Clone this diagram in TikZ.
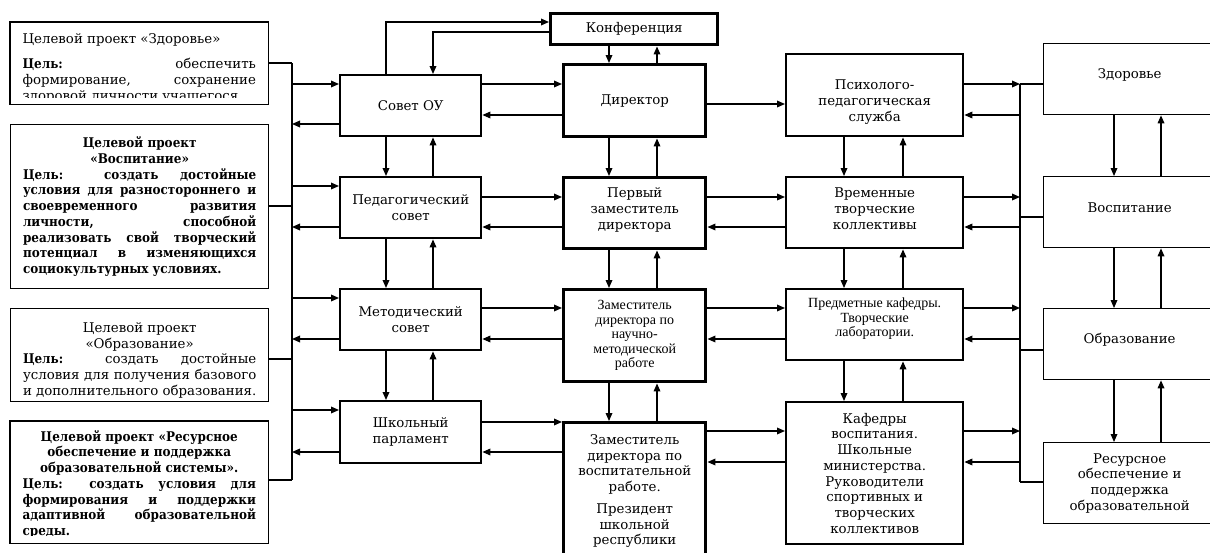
\documentclass[tikz,border=0pt]{standalone}
\usepackage{fontspec}
\setmainfont{DejaVu Serif}[BoldFeatures={FakeStretch=0.9}]
\newfontfamily\tnr{Liberation Serif}
\usetikzlibrary{arrows.meta}
\newcommand\vtxt[3]{\parbox{#1}{\centering #3\par\vspace{#2}}}
\begin{document}
\begin{tikzpicture}[x=0.75pt, y=-0.75pt,
  wh/.style 2 args={minimum width=#1*0.75pt, minimum height=#2*0.75pt},
  base/.style={inner sep=0pt, anchor=north west, font=\fontsize{10}{11.8}\selectfont, align=center},
  tnode/.style={base},
  tline/.style={line width=1pt},
  tbox/.style={base, draw, line width=1pt},
  lbox/.style={base, draw, line width=1.8pt},
  cbox/.style={base, draw, line width=2.6pt},
  mbox/.style={base, draw, line width=1.8pt},
  rbox/.style={base, draw, line width=1pt},
  tnrfont/.style={font=\tnr\fontsize{10.5}{10.9}\selectfont},
  arr/.style={-{Triangle[length=6pt,width=5pt]}, line width=0.9pt},
  ln/.style={line width=0.9pt}]
\useasboundingbox (0,0) rectangle (1210,553);

% ---- left text boxes ----
\begin{scope}
  \clip (10,22) rectangle (268,97);
  \node[tnode, wh={258}{82}] (p1) at (10,22) {\parbox{175pt}{Целевой проект «Здоровье»\par\vspace{7pt}\textbf{Цель:} обеспечить\linebreak формирование, сохранение\linebreak здоровой личности учащегося.\par\vspace{-7.5pt}}};
\end{scope}
\draw[tline] (p1.north west) rectangle (p1.south east);

\node[tbox, wh={258}{164}] (p2) at (10,124) {\parbox{175pt}{\bfseries{\centering Целевой проект\\«Воспитание»\par}Цель: создать достойные\linebreak условия для разностороннего и\linebreak своевременного развития\linebreak личности, способной\linebreak реализовать свой творческий\linebreak потенциал в изменяющихся\linebreak социокультурных условиях.}};

\node[tbox, wh={258}{93}] (p3) at (10,308) {\parbox{175pt}{{\centering Целевой проект\\«Образование»\par}\textbf{Цель:} создать достойные\linebreak условия для получения базового\linebreak и дополнительного образования.\par\vspace{-7.5pt}}};

\begin{scope}
  \clip (10,421) rectangle (268,535);
  \node[tnode, wh={258}{122}] (p4) at (10,421) {\parbox{175pt}{\bfseries{\centering Целевой проект «Ресурсное\\обеспечение и поддержка\\образовательной системы».\par}Цель: создать условия для\linebreak формирования и поддержки\linebreak адаптивной образовательной\linebreak среды.\par\vspace{-3pt}}};
\end{scope}
\draw[tline] (p4.north west) rectangle (p4.south east);

% ---- left column ----
\node[lbox, wh={141}{61}] (sov) at (339,74) {Совет ОУ};
\node[lbox, wh={141}{61}] (ped) at (339,176) {Педагогический\\совет};
\node[lbox, wh={141}{61}] (met) at (339,288) {Методический\\совет};
\node[lbox, wh={141}{62}] (par) at (339,400) {Школьный\\парламент};

% ---- center column ----
\node[cbox, wh={167}{31}] (konf) at (549,12) {Конференция};
\node[cbox, wh={142}{72}] (dir) at (562,63) {Директор};
\node[cbox, wh={142}{71}] (perv) at (562,176) {\vtxt{100pt}{5pt}{Первый\\заместитель\\директора}};
\node[cbox, wh={142}{92}, tnrfont] (znm) at (562,288) {Заместитель\\директора по\\научно-\\методической\\работе};
\node[cbox, wh={142}{137}] (zvr) at (562,421) {Заместитель\\директора по\\воспитательной\\работе.\\[4.5pt]Президент\\школьной\\республики};

% ---- middle-right column ----
\node[mbox, wh={177}{82}] (psy) at (785,53) {\vtxt{120pt}{-10.5pt}{Психолого-\\педагогическая\\служба}};
\node[mbox, wh={177}{71}] (vtk) at (785,176) {\vtxt{120pt}{6pt}{Временные\\творческие\\коллективы}};
\node[mbox, wh={177}{71}, tnrfont] (pk) at (785,288) {\vtxt{120pt}{9pt}{Предметные кафедры.\\Творческие\\лаборатории.}};
\node[mbox, wh={177}{142}] (kaf) at (785,401) {Кафедры\\воспитания.\\Школьные\\министерства.\\Руководители\\спортивных и\\творческих\\коллективов};

% ---- right column ----
\node[rbox, wh={172}{71}] (zd) at (1043,43) {\vtxt{110pt}{6.8pt}{Здоровье}};
\node[rbox, wh={172}{71}] (vosp) at (1043,176) {\vtxt{110pt}{6.8pt}{Воспитание}};
\node[rbox, wh={172}{71}] (obr) at (1043,308) {\vtxt{110pt}{6.8pt}{Образование}};
\node[rbox, wh={172}{81}] (res) at (1043,442) {Ресурсное\\обеспечение и\\поддержка\\образовательной};

% ---- left bus ----
\coordinate (lbt) at (292,63);
\coordinate (lbb) at (292,480);
\draw[ln] (lbt) -- (lbb);
\draw[ln] (p1.east |- lbt) -- (lbt);
\draw[ln] (p2.east |- 0,206) -- (lbt |- 0,206);
\draw[ln] (p3.east |- 0,359) -- (lbt |- 0,359);
\draw[ln] (p4.east |- lbb) -- (lbb);
\foreach \b/\i/\o in {sov/84/124, ped/186/227, met/298/339, par/410/452} {
  \draw[arr] (lbt |- 0,\i) -- (\b.west |- 0,\i);
  \draw[arr] (\b.west |- 0,\o) -- (lbt |- 0,\o);
}

% ---- vertical links ----
\foreach \a/\b in {sov/ped, ped/met, met/par} {
  \draw[arr] (\a.south -| 386,0) -- (\b.north -| 386,0);
  \draw[arr] (\b.north -| 433,0) -- (\a.south -| 433,0);
}
\foreach \a/\b in {konf/dir, dir/perv, perv/znm, znm/zvr} {
  \draw[arr] (\a.south -| 609,0) -- (\b.north -| 609,0);
  \draw[arr] (\b.north -| 657,0) -- (\a.south -| 657,0);
}
\foreach \a/\b in {psy/vtk, vtk/pk, pk/kaf} {
  \draw[arr] (\a.south -| 844,0) -- (\b.north -| 844,0);
  \draw[arr] (\b.north -| 903,0) -- (\a.south -| 903,0);
}
\foreach \a/\b in {zd/vosp, vosp/obr, obr/res} {
  \draw[arr] (\a.south -| 1114,0) -- (\b.north -| 1114,0);
  \draw[arr] (\b.north -| 1161,0) -- (\a.south -| 1161,0);
}

% ---- conference links ----
\draw[arr] (sov.north -| 386,0) |- (konf.west |- 0,22);
\draw[arr] (konf.west |- 0,32) -| (sov.north -| 433,0);

% ---- left column <-> center ----
\foreach \a/\b/\i/\o in {sov/dir/84/115, ped/perv/197/227, met/znm/308/339, par/zvr/422/452} {
  \draw[arr] (\a.east |- 0,\i) -- (\b.west |- 0,\i);
  \draw[arr] (\b.west |- 0,\o) -- (\a.east |- 0,\o);
}

% ---- center <-> middle-right ----
\draw[arr] (dir.east |- 0,104) -- (psy.west |- 0,104);
\foreach \a/\b/\i/\o in {perv/vtk/197/227, znm/pk/308/339, zvr/kaf/431/462} {
  \draw[arr] (\a.east |- 0,\i) -- (\b.west |- 0,\i);
  \draw[arr] (\b.west |- 0,\o) -- (\a.east |- 0,\o);
}

% ---- right bus ----
\coordinate (rbt) at (1020,84);
\coordinate (rbb) at (1020,482);
\draw[ln] (rbt) -- (rbb);
\foreach \b/\i/\o in {psy/84/115, vtk/197/227, pk/308/339, kaf/431/462} {
  \draw[arr] (\b.east |- 0,\i) -- (rbt |- 0,\i);
  \draw[arr] (rbt |- 0,\o) -- (\b.east |- 0,\o);
}
\draw[ln] (rbt) -- (zd.west |- rbt);
\draw[ln] (rbt |- 0,217) -- (vosp.west |- 0,217);
\draw[ln] (rbt |- 0,350) -- (obr.west |- 0,350);
\draw[ln] (rbb) -- (res.west |- rbb);
\end{tikzpicture}
\end{document}
